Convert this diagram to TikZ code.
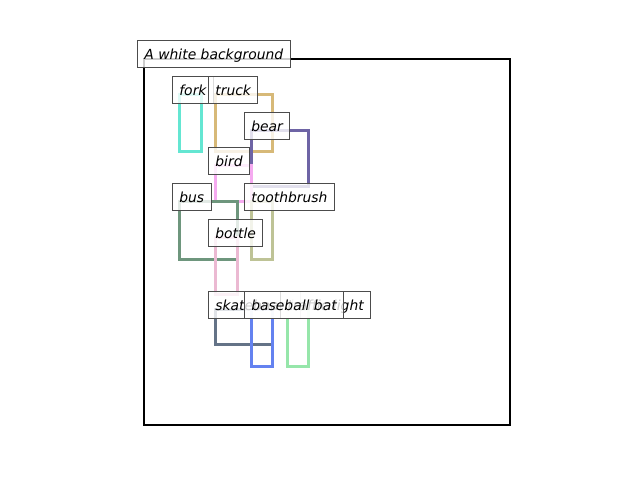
\documentclass[tikz,border=0pt]{standalone}
\usepackage{fontspec}
\setmainfont{DejaVu Sans}
\begin{document}
\begin{tikzpicture}[x=1pt,y=-1pt,
  lbl/.style={draw=black!70, line width=0.9pt, fill=white, fill opacity=0.8, text opacity=1,
    inner xsep=6.9pt, inner ysep=6.9pt, text height=12.2pt, text depth=1pt,
    font=\fontsize{13.9}{16}\selectfont\itshape, anchor=west},
  boxline/.style={line width=3pt, line join=miter}]
\definecolor{cfork}{RGB}{100,230,210}
\definecolor{ctruck}{RGB}{215,185,120}
\definecolor{cbear}{RGB}{110,100,165}
\definecolor{cbird}{RGB}{245,170,240}
\definecolor{cbus}{RGB}{110,150,125}
\definecolor{ctooth}{RGB}{190,195,150}
\definecolor{cbottle}{RGB}{235,185,210}
\definecolor{cskate}{RGB}{100,115,135}
\definecolor{cbat}{RGB}{100,130,240}
\definecolor{clight}{RGB}{150,230,170}
\useasboundingbox (0,0) rectangle (640,480);
\draw[line width=2.2pt] (144,59) rectangle (510,425);
% object boxes
\draw[boxline, cfork] (179,94) rectangle (201,151);
\draw[boxline, ctruck] (215,94) rectangle (272,151);
\draw[boxline, cbear] (251,130) rectangle (308,186);
\draw[boxline, cbird] (215,165) rectangle (251,201);
\draw[boxline, cbus] (179,201) rectangle (237,259);
\draw[boxline, ctooth] (251,201) rectangle (272,259);
\draw[boxline, cbottle] (215,237) rectangle (237,294);
\draw[boxline, cskate] (215,309) rectangle (272,344);
\draw[boxline, cbat] (251,309) rectangle (272,366);
\draw[boxline, clight] (287,309) rectangle (308,366);
% labels
\node[lbl] (bg) at (137,53.5) {A white background};
\node[lbl] (fork) at (172,89.5) {fork};
\node[lbl] (truck) at (208,89.5) {truck};
\node[lbl] (bear) at (244,125.5) {bear};
\node[lbl] (bird) at (208,160.5) {bird};
\node[lbl] (bus) at (172,196.5) {bus};
\node[lbl] (toothbrush) at (244,196.5) {toothbrush};
\node[lbl] (bottle) at (208,232.5) {bottle};
\node[lbl] (skateboard) at (208,304.5) {skateboard};
\node[lbl] (trafficlight) at (280,304.5) {traffic light};
\node[lbl] (baseballbat) at (244,304.5) {baseball bat};
\end{tikzpicture}
\end{document}
